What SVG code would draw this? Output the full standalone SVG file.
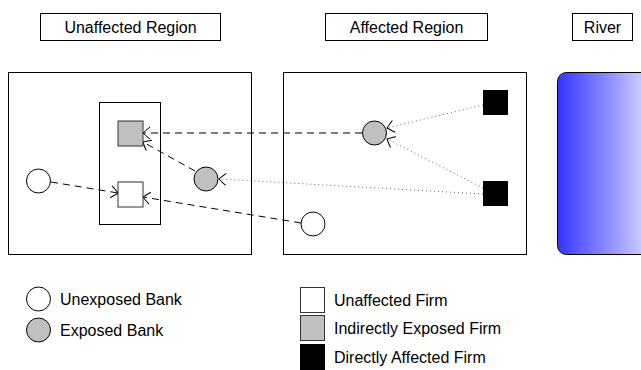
<svg xmlns="http://www.w3.org/2000/svg" width="641" height="370" viewBox="0 0 641 370">
<style>
text{font-family:"Liberation Sans",Arial,sans-serif;font-size:16px;fill:#000}
.t{text-anchor:middle}
.box{fill:#fff;stroke:#000;stroke-width:1}
.bank{fill:#fff;stroke:#000;stroke-width:1}
.exp{fill:#c0c0c0}
.firm{fill:#fff;stroke:#333;stroke-width:1}
.ind{fill:#c0c0c0}
.dir{fill:#000;stroke:#000}
.dash{fill:none;stroke:#000;stroke-width:1;stroke-dasharray:7 5}
.dot{fill:none;stroke:#666;stroke-width:1;stroke-dasharray:1 3}
</style>
<defs>
<linearGradient id="riv" gradientUnits="userSpaceOnUse" x1="557" y1="0" x2="641" y2="0">
<stop offset="0" stop-color="#3333ff"/>
<stop offset="1" stop-color="#c8c8ff"/>
</linearGradient>
<marker id="ah" viewBox="-9 -7 10 14" markerWidth="10" markerHeight="14" refX="0" refY="0" orient="auto" markerUnits="userSpaceOnUse">
<path d="M-7,-6 Q-2,-2 0,0 Q-2,2 -7,6" fill="none" stroke="#000" stroke-width="1"/>
</marker>
</defs>
<g id="title-unaffected"><rect class="box" x="40.5" y="13.5" width="180" height="27"/><text class="t" x="130.5" y="33">Unaffected Region</text></g>
<g id="title-affected"><rect class="box" x="325.5" y="13.5" width="162" height="27"/><text class="t" x="406.5" y="33">Affected Region</text></g>
<g id="title-river"><rect class="box" x="572.5" y="13.5" width="60" height="27"/><text class="t" x="602.5" y="33">River</text></g>
<g id="region-unaffected"><rect class="box" x="8.5" y="72.5" width="243" height="182"/></g>
<g id="region-affected"><rect class="box" x="283.5" y="72.5" width="243" height="182"/></g>
<g id="river"><rect x="557.5" y="72.5" width="120" height="182" rx="9" fill="url(#riv)" stroke="#000" stroke-width="1"/></g>
<g id="cluster"><rect class="box" x="99.5" y="102.5" width="61" height="122"/></g>
<g id="connectors">
<line class="dash" x1="362" y1="133" x2="143" y2="133" marker-end="url(#ah)"/>
<line class="dash" x1="195" y1="171" x2="143" y2="142" marker-end="url(#ah)"/>
<line class="dash" x1="51" y1="182" x2="118" y2="193" marker-end="url(#ah)"/>
<line class="dash" x1="301" y1="223" x2="143" y2="197" marker-end="url(#ah)"/>
<line class="dot" x1="483" y1="194" x2="219" y2="179" marker-end="url(#ah)"/>
<line class="dot" x1="483" y1="105" x2="387" y2="128" marker-end="url(#ah)"/>
<line class="dot" x1="483" y1="188" x2="387" y2="139" marker-end="url(#ah)"/>
</g>
<g id="firm-indirect"><rect class="firm ind" x="118" y="121" width="25" height="25"/></g>
<g id="firm-unaffected"><rect class="firm" x="118" y="182" width="25" height="25"/></g>
<g id="bank-unexposed-left"><circle class="bank" cx="38.5" cy="181" r="12"/></g>
<g id="bank-exposed-left"><circle class="bank exp" cx="206" cy="179" r="12"/></g>
<g id="bank-exposed-right"><circle class="bank exp" cx="374.5" cy="133" r="12"/></g>
<g id="bank-unexposed-right"><circle class="bank" cx="313" cy="224" r="12"/></g>
<g id="firm-direct-top"><rect class="dir" x="483.5" y="90.5" width="24" height="24"/></g>
<g id="firm-direct-bottom"><rect class="dir" x="483.5" y="181.5" width="24" height="24"/></g>
<g id="legend">
<circle class="bank" cx="38.5" cy="299" r="12"/><text x="60" y="305">Unexposed Bank</text>
<circle class="bank exp" cx="38.5" cy="330" r="12"/><text x="60" y="336">Exposed Bank</text>
<rect class="firm" x="300.5" y="287.5" width="24" height="25"/><text x="334" y="306">Unaffected Firm</text>
<rect class="firm ind" x="300.5" y="315.5" width="24" height="25"/><text x="334" y="334">Indirectly Exposed Firm</text>
<rect class="dir" x="300.5" y="344.5" width="24" height="25"/><text x="334" y="363">Directly Affected Firm</text>
</g>
</svg>
